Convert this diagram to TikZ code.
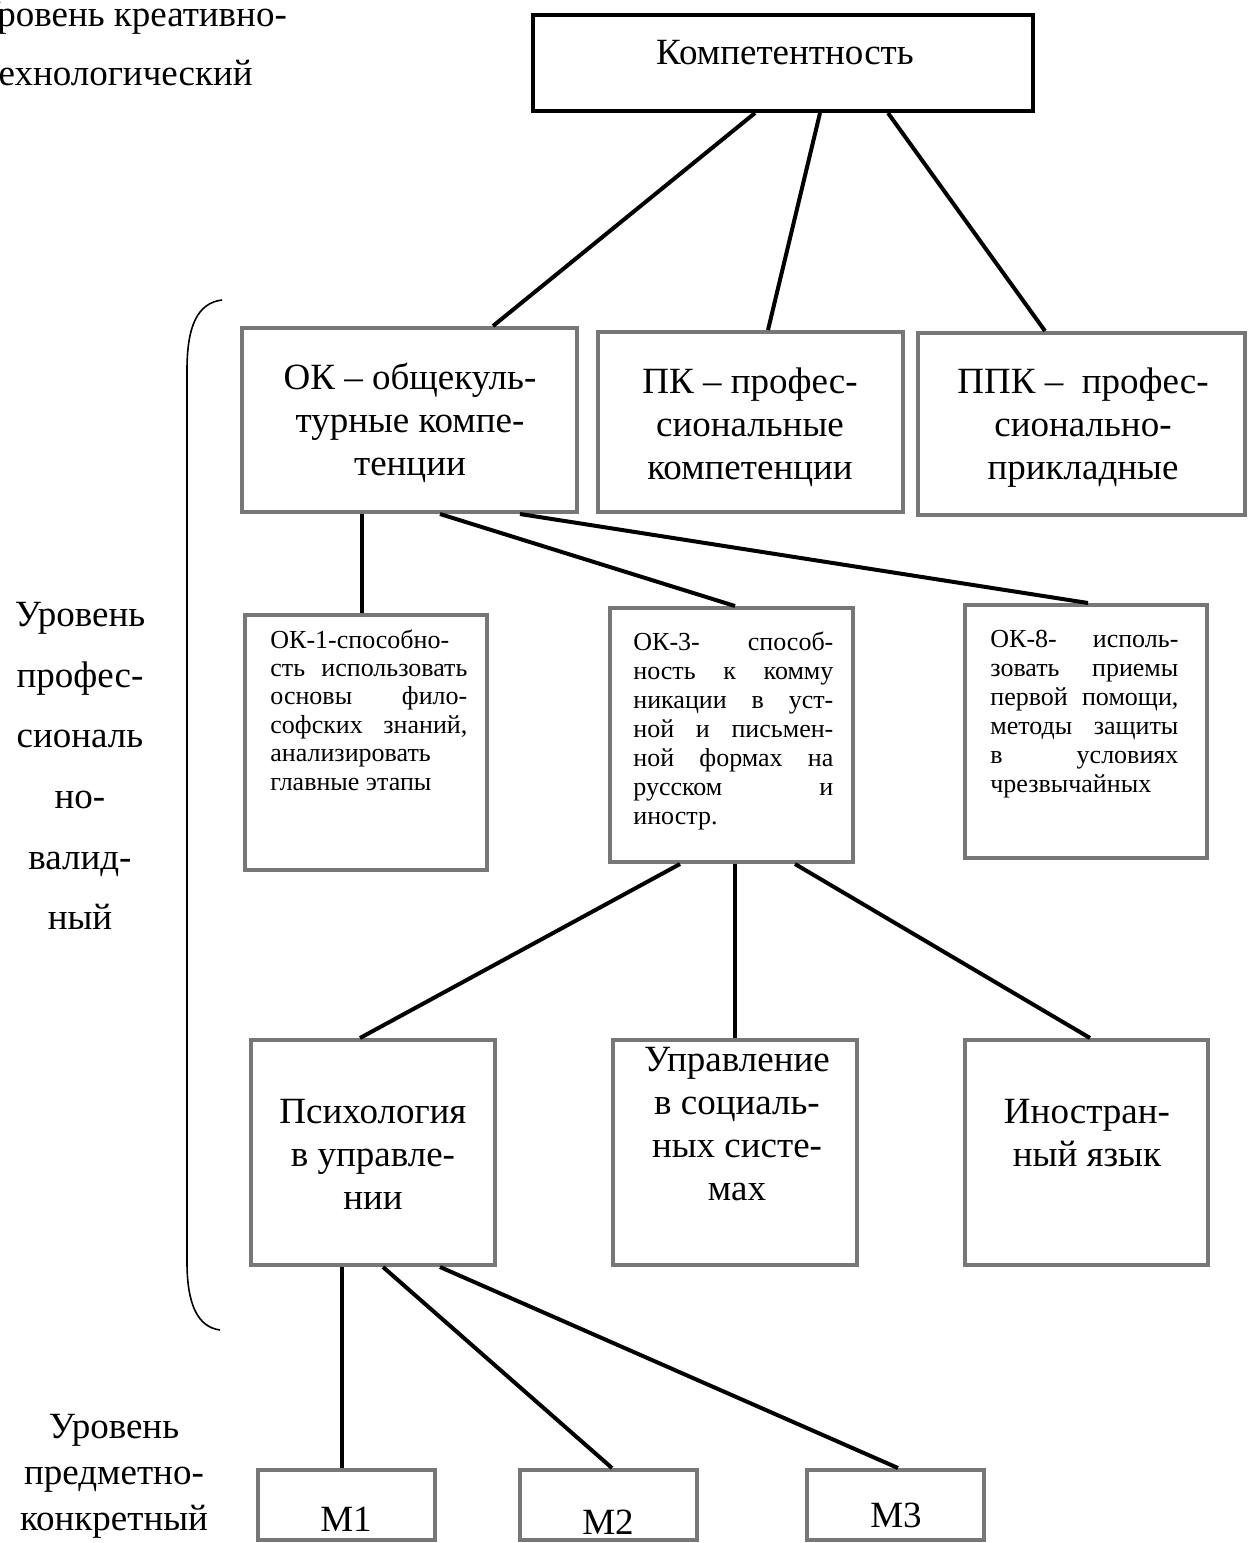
\documentclass[tikz,border=0pt]{standalone}
\usepackage{fontspec}
\setmainfont{Liberation Serif}
\usetikzlibrary{fit}
\definecolor{boxgray}{HTML}{777777}
% width of the justified lines inside the small boxes
\newlength\jw
\newcommand\jline[1]{\makebox[\jw][s]{#1}}
\begin{document}
\begin{tikzpicture}[x=0.5pt,y=-0.5pt,
  box/.style={draw=boxgray, line width=2pt, inner sep=0pt},
  topbox/.style={draw=black, line width=2pt, inner sep=0pt},
  link/.style={line width=2pt, draw=black},
  big/.style={font=\fontsize{18.5}{21.5}\selectfont, align=center, inner sep=0pt},
  side/.style={font=\fontsize{18.5}{30.3}\selectfont, align=center, inner sep=0pt},
  small/.style={font=\fontsize{13}{14.5}\selectfont, align=left, inner sep=0pt, anchor=north west},
]
\useasboundingbox (0,0) rectangle (1251,1543);

% boxes
\node[topbox, fit={(533,15) (1033,111)}] (top) {};
\node[box, fit={(242,328) (577,512)}] (ok) {};
\node[box, fit={(598,332) (903,512)}] (pk) {};
\node[box, fit={(918,333) (1245,515)}] (ppk) {};
\node[box, fit={(245,615) (487,870)}] (ok1) {};
\node[box, fit={(610,608) (853,862)}] (ok3) {};
\node[box, fit={(965,605) (1207,858)}] (ok8) {};
\node[box, fit={(251,1040) (495,1265)}] (psy) {};
\node[box, fit={(613,1040) (857,1265)}] (upr) {};
\node[box, fit={(965,1040) (1208,1265)}] (ino) {};
\node[box, fit={(258,1470) (435,1540)}] (m1) {};
\node[box, fit={(520,1470) (697,1540)}] (m2) {};
\node[box, fit={(807,1470) (984,1540)}] (m3) {};

% box texts
\node[big, anchor=base] (tTop) at (785,64) {Компетентность};
\node[big, anchor=north] (tOk) at (410,363) {ОК – общекуль-\\турные компе-\\тенции};
\node[big, anchor=north] (tPk) at (750,367) {ПК – профес-\\сиональные\\компетенции};
\node[big, anchor=north] (tPpk) at (1083,367) {ППК –\ \ профес-\\сионально-\\прикладные};
\node[big, anchor=north] (tPsy) at (373,1099) {Психология\\в управле-\\нии};
\node[big, anchor=north] (tUpr) at (737,1047) {Управление\\в социаль-\\ных систе-\\мах};
\node[big, anchor=north] (tIno) at (1087,1099) {Иностран-\\ный язык};
\node[big, anchor=base] (tM1) at (346,1531) {М1};
\node[big, anchor=base] (tM2) at (608,1534) {М2};
\node[big, anchor=base] (tM3) at (896,1527) {М3};

\node[small, font=\fontsize{13}{14.2}\selectfont\setlength\jw{98.5pt}] (tOk1) at (270,629)
  {ОК-1-способно-\\\jline{сть использовать}\\\jline{основы фило-}\\\jline{софских знаний,}\\анализировать\\главные этапы};
\node[small, font=\fontsize{13}{14.5}\selectfont\setlength\jw{100pt}] (tOk3) at (633,631)
  {\jline{ОК-3- способ-}\\\jline{ность к комму}\\\jline{никации в уст-}\\\jline{ной и письмен-}\\\jline{ной формах на}\\\jline{русском и}\\иностр.};
\node[small, font=\fontsize{13}{14.5}\selectfont\setlength\jw{94pt}] (tOk8) at (990,630)
  {\jline{ОК-8- исполь-}\\\jline{зовать приемы}\\\jline{первой помощи,}\\\jline{методы защиты}\\\jline{в условиях}\\чрезвычайных};

% level labels
\node[font=\fontsize{18.5}{21.5}\selectfont, anchor=base west, inner sep=0pt] (lvA1) at (-26,26) {Уровень креативно-};
\node[font=\fontsize{18.5}{21.5}\selectfont, anchor=base west, inner sep=0pt] (lvA2) at (-18,85) {технологический};
\node[side, anchor=north] (lvB) at (80,602) {Уровень\\профес-\\сиональ\\но-\\валид-\\ный};
\node[font=\fontsize{18.5}{23}\selectfont, align=center, inner sep=0pt, anchor=north] (lvC) at (114,1414) {Уровень\\предметно-\\конкретный};

% bracket of the middle level
\draw[line width=0.8pt] (222,300) .. controls (198,303) and (187,325) .. (187,370)
  -- (187,1262) .. controls (187,1305) and (198,1327) .. (220,1330);

% connectors
\draw[link] (top.south -| 755,0) -- (ok.north -| 493,0);
\draw[link] (top.south -| 820,0) -- (pk.north -| 768,0);
\draw[link] (top.south -| 888,0) -- (ppk.north -| 1045,0);
\draw[link] (ok.south -| 362,0) -- (ok1.north -| 362,0);
\draw[link] (ok.south -| 440,0) -- (ok3.north -| 735,0);
\draw[link] (ok.south -| 520,0) -- (ok8.north -| 1088,0);
\draw[link] (ok3.south -| 680,0) -- (psy.north -| 360,0);
\draw[link] (ok3.south -| 735,0) -- (upr.north -| 735,0);
\draw[link] (ok3.south -| 795,0) -- (ino.north -| 1090,0);
\draw[link] (psy.south -| 342,0) -- (m1.north -| 342,0);
\draw[link] (psy.south -| 383,0) -- (m2.north -| 612,0);
\draw[link] (psy.south -| 440,0) -- (m3.north -| 898,0);
\end{tikzpicture}
\end{document}
